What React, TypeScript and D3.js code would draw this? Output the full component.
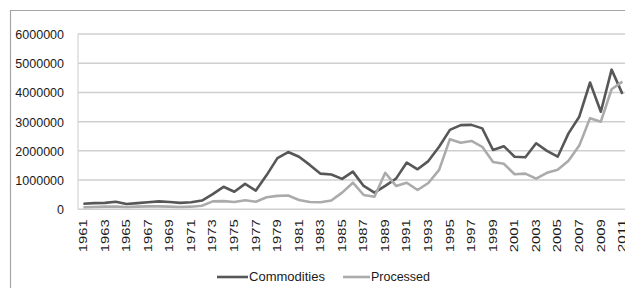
import React, { useEffect, useRef } from 'react';
import * as d3 from 'd3';

// years 1961..2011
const years: number[] = d3.range(1961, 2012);

const commodities: number[] = [
    190000, 210000, 220000, 260000, 180000, 210000, 240000, 270000, 250000, 220000,
    240000, 300000, 520000, 770000, 600000, 870000, 640000, 1170000, 1750000, 1960000,
    1800000, 1520000, 1220000, 1190000, 1040000, 1290000, 800000, 570000, 800000, 1050000,
    1600000, 1370000, 1650000, 2140000, 2720000, 2880000, 2890000, 2770000, 2030000, 2160000,
    1800000, 1780000, 2260000, 2000000, 1800000, 2600000, 3170000, 4340000, 3340000, 4780000,
    3950000,
];

const processed: number[] = [
    70000, 80000, 90000, 90000, 80000, 90000, 100000, 100000, 90000, 80000,
    90000, 120000, 270000, 280000, 250000, 310000, 260000, 410000, 460000, 470000,
    320000, 250000, 240000, 300000, 570000, 910000, 490000, 430000, 1250000, 800000,
    910000, 660000, 900000, 1350000, 2400000, 2280000, 2340000, 2140000, 1620000, 1560000,
    1200000, 1220000, 1050000, 1250000, 1350000, 1660000, 2180000, 3120000, 3000000, 4110000,
    4370000,
];

const yTicks: number[] = [0, 1000000, 2000000, 3000000, 4000000, 5000000, 6000000];
const xTickYears: number[] = years.filter((y) => (y - 1961) % 2 === 0);

const series = [
    { name: 'Commodities', values: commodities, color: '#575757' },
    { name: 'Processed', values: processed, color: '#ababab' },
];

const App: React.FC = () => {
    const svgRef = useRef<SVGSVGElement>(null);

    useEffect(() => {
        const svg = d3.select(svgRef.current);
        svg.selectAll('*').remove();

        const width = 625;
        const height = 288;
        const plot = { left: 78, top: 34, bottom: 209.3 };
        const band = 10.78;

        svg.attr('width', width).attr('height', height).style('background', '#fff');

        // outer chart border (runs off the picture to the right/bottom)
        svg.append('path')
            .attr('d', `M10.5,${height + 5} V10.5 H${width + 5}`)
            .attr('fill', 'none')
            .attr('stroke', '#a6a6a6')
            .attr('stroke-width', 1.2);

        const x = d3.scaleBand<number>()
            .domain(years)
            .range([plot.left, plot.left + band * years.length]);

        const y = d3.scaleLinear()
            .domain([0, 6000000])
            .range([plot.bottom, plot.top]);

        // gridlines
        svg.append('g')
            .selectAll('line')
            .data(yTicks)
            .enter()
            .append('line')
            .attr('x1', plot.left)
            .attr('x2', width + 5)
            .attr('y1', (d) => y(d))
            .attr('y2', (d) => y(d))
            .attr('stroke', '#cfcfcf')
            .attr('stroke-width', 1.5);

        // plot area left edge
        svg.append('line')
            .attr('x1', plot.left)
            .attr('x2', plot.left)
            .attr('y1', plot.top)
            .attr('y2', plot.bottom)
            .attr('stroke', '#d4d4d4')
            .attr('stroke-width', 1.2);

        // Y axis
        const yAxis = svg.append('g')
            .attr('transform', `translate(${plot.left - 14},0)`)
            .call(d3.axisLeft(y).tickValues(yTicks).tickSize(0).tickFormat((d) => String(d)));
        yAxis.select('.domain').remove();
        yAxis.selectAll('text')
            .attr('x', 0)
            .attr('dy', '0.35em')
            .style('font-family', 'Liberation Sans, Arial, sans-serif')
            .style('font-size', '12.5px')
            .style('fill', '#1a1a1a');

        // X axis
        const xAxis = svg.append('g')
            .attr('transform', `translate(0,${plot.bottom})`)
            .call(d3.axisBottom(x).tickValues(xTickYears).tickSize(0));
        xAxis.select('.domain').remove();
        xAxis.selectAll('text')
            .attr('transform', 'rotate(-90)')
            .attr('x', -10)
            .attr('y', 0)
            .attr('dy', '0.35em')
            .attr('text-anchor', 'end')
            .attr('textLength', 33)
            .attr('lengthAdjust', 'spacingAndGlyphs')
            .style('font-family', 'Liberation Sans, Arial, sans-serif')
            .style('font-size', '10.5px')
            .style('fill', '#1a1a1a');

        // lines
        const line = d3.line<number>()
            .x((_, i) => (x(years[i]) || 0) + x.bandwidth() / 2)
            .y((d) => y(d));

        svg.append('g')
            .selectAll('path')
            .data(series)
            .enter()
            .append('path')
            .attr('d', (s) => line(s.values) || '')
            .attr('fill', 'none')
            .attr('stroke', (s) => s.color)
            .attr('stroke-width', 2.6)
            .attr('stroke-linejoin', 'round');

        // legend
        const legendX = [217, 343];
        const legend = svg.append('g')
            .selectAll('g')
            .data(series)
            .enter()
            .append('g')
            .attr('transform', (_, i) => `translate(${legendX[i]},277)`);
        legend.append('line')
            .attr('x1', 0)
            .attr('x2', (_, i) => (i === 0 ? 31 : 27))
            .attr('y1', 0)
            .attr('y2', 0)
            .attr('stroke', (s) => s.color)
            .attr('stroke-width', 2.6);
        legend.append('text')
            .attr('x', (_, i) => (i === 0 ? 32 : 28))
            .attr('y', 0)
            .attr('dy', '0.35em')
            .attr('textLength', (_, i) => (i === 0 ? 76 : 59))
            .attr('lengthAdjust', 'spacingAndGlyphs')
            .style('font-family', 'Liberation Sans, Arial, sans-serif')
            .style('font-size', '12.5px')
            .style('fill', '#1a1a1a')
            .text((s) => s.name);
    }, []);

    return (
        <svg
            ref={svgRef}
            style={{ position: 'absolute', left: 0, top: 0, display: 'block' }}
        ></svg>
    );
};

export default App;
